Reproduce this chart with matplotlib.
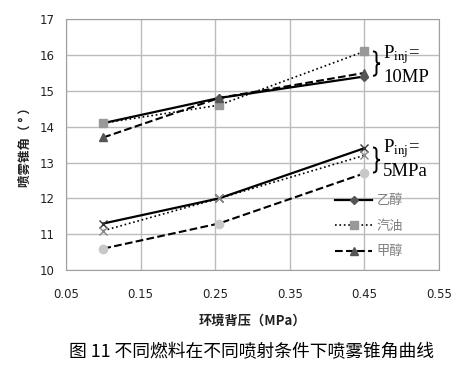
import numpy as np
import matplotlib
matplotlib.use("Agg")
from matplotlib import pyplot as plt
from matplotlib.path import Path
from matplotlib.patches import PathPatch

plt.rcParams['font.family'] = ['DejaVu Sans', 'Noto Sans CJK SC']
plt.rcParams['mathtext.fontset'] = 'stix'

# data
pressure = [0.1, 0.255, 0.45]
ethanol_10 = [14.1, 14.8, 15.4]
gasoline_10 = [14.1, 14.6, 16.1]
methanol_10 = [13.7, 14.8, 15.5]
ethanol_5 = [11.3, 12.0, 13.4]
gasoline_5 = [11.1, 12.0, 13.2]
methanol_5 = [10.6, 11.3, 12.7]
xticks = [0.05, 0.15, 0.25, 0.35, 0.45, 0.55]
yticks = [10, 11, 12, 13, 14, 15, 16, 17]


def brace(ax, x0, ytop, ybot, w=0.0095, r=0.09):
    # right-facing curly brace drawn in data coords
    ym = (ytop + ybot) / 2
    xm = x0 + w / 2
    verts = [(x0, ytop), (xm, ytop), (xm, ytop - r),
             (xm, ym + r),
             (xm, ym), (x0 + w, ym),
             (xm, ym), (xm, ym - r),
             (xm, ybot + r),
             (xm, ybot), (x0, ybot)]
    codes = [Path.MOVETO, Path.CURVE3, Path.CURVE3,
             Path.LINETO,
             Path.CURVE3, Path.CURVE3,
             Path.CURVE3, Path.CURVE3,
             Path.LINETO,
             Path.CURVE3, Path.CURVE3]
    ax.add_patch(PathPatch(Path(verts, codes), fill=False, lw=1.4,
                           edgecolor='black', clip_on=False, zorder=4))


fig = plt.figure(figsize=(4.65, 3.68), dpi=100)
ax = fig.add_axes([0.142, 0.266, 0.802, 0.682])

# upper group, 10 MPa
ax.plot(pressure, ethanol_10, '-', color='black', lw=1.6, marker='D', ms=4,
        mfc='#555555', mec='#555555', label='乙醇', zorder=3)
ax.plot(pressure, gasoline_10, ':', color='black', lw=1.2, marker='s', ms=6,
        mfc='#999999', mec='#999999', label='汽油', zorder=3)
ax.plot(pressure, methanol_10, '--', color='black', lw=1.5, marker='^', ms=6,
        mfc='#555555', mec='#555555', label='甲醇', zorder=3)

# lower group, 5 MPa
ax.plot(pressure, ethanol_5, '-', color='black', lw=1.6, marker='x', ms=6,
        mec='#333333', zorder=3)
ax.plot(pressure, gasoline_5, ':', color='black', lw=1.2, marker='x', ms=6,
        mec='#888888', zorder=3)
ax.plot(pressure, methanol_5, '--', color='black', lw=1.5, marker='o', ms=6,
        mfc='#c8c8c8', mec='#c8c8c8', zorder=3)

ax.set_xlim(0.05, 0.55)
ax.set_ylim(10, 17)
ax.set_xticks(xticks)
ax.set_xticklabels(['%.2f' % t for t in xticks])
ax.set_yticks(yticks)
ax.grid(True, color='#bcbcbc', lw=1)
ax.set_axisbelow(True)
for s in ax.spines.values():
    s.set_color('#a0a0a0')
ax.tick_params(length=0, labelsize=8.5, colors='#222222')
ax.tick_params(axis='y', pad=8)
ax.tick_params(axis='x', pad=13)

ax.set_xlabel('环境背压（MPa）', fontsize=9.5, labelpad=9, weight='bold',
              family=['Noto Sans CJK SC', 'DejaVu Sans'], color='#222222')
ax.set_ylabel('喷雾锥角（ ° ）', fontsize=9, labelpad=6, weight='bold',
              family=['Noto Sans CJK SC', 'DejaVu Sans'], color='#222222')

leg = ax.legend(loc='lower right', bbox_to_anchor=(0.935, 0.0), frameon=False,
                handlelength=2.8, labelspacing=0.95, handletextpad=0.3,
                prop={'family': ['Noto Sans CJK SC'], 'size': 9.5})
for t in leg.get_texts():
    t.set_color('#808080')

# braces and annotations
brace(ax, 0.4615, 16.10, 15.42)
ax.text(0.475, 16.02, r'P$_{\rm inj}$=', fontsize=13.5, family='Liberation Serif', va='center')
ax.text(0.475, 15.36, '10MP', fontsize=13.5, family='Liberation Serif', va='center')
brace(ax, 0.4615, 13.42, 12.72)
ax.text(0.475, 13.40, r'P$_{\rm inj}$=', fontsize=13.5, family='Liberation Serif', va='center')
ax.text(0.475, 12.76, '5MPa', fontsize=13.5, family='Liberation Serif', va='center')

fig.text(0.541, 0.043, '图 11 不同燃料在不同喷射条件下喷雾锥角曲线', ha='center', va='center',
         fontsize=12.8, family=['Noto Sans CJK SC', 'DejaVu Sans'])

fig.savefig('out.png', dpi=100)
